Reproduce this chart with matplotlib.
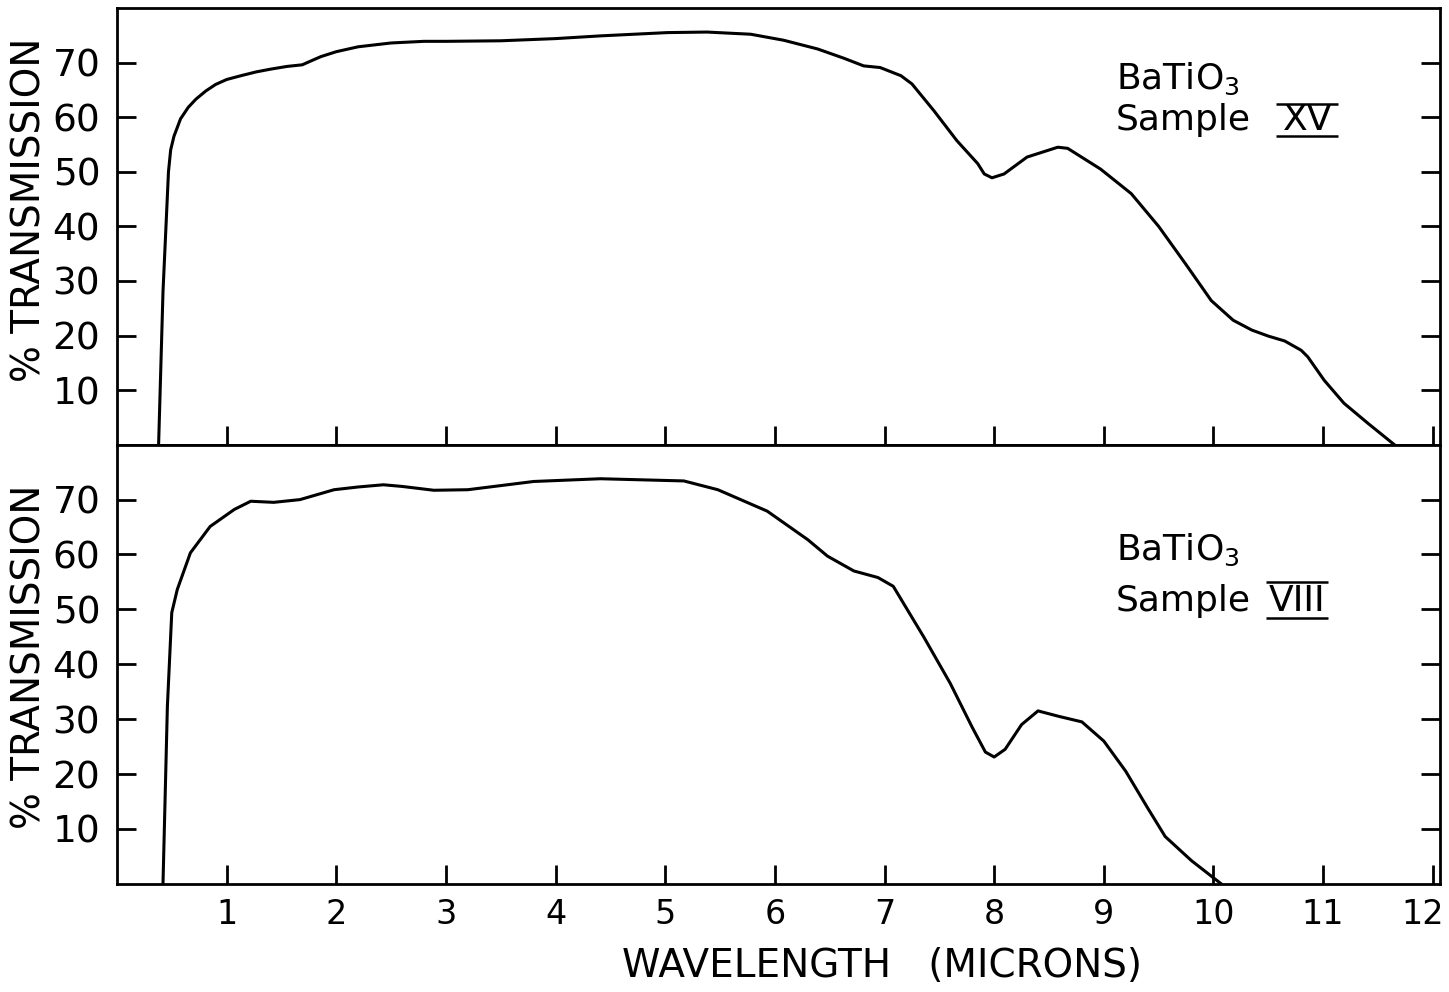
import matplotlib
matplotlib.use("Agg")
import matplotlib.pyplot as plt
import matplotlib.transforms as mtransforms

# sample XV (upper panel)
wl_xv = [0.38, 0.42, 0.47, 0.49, 0.52, 0.58, 0.65, 0.72, 0.81, 0.90, 1.00, 1.13, 1.27,
         1.40, 1.55, 1.69, 1.78, 1.86, 2.0, 2.2, 2.5, 2.8, 3.0, 3.5, 4.0, 4.41, 5.02,
         5.38, 5.78, 6.08, 6.39, 6.63, 6.81, 6.96, 7.15, 7.25, 7.45, 7.66, 7.85, 7.91,
         7.98, 8.09, 8.30, 8.58, 8.67, 8.97, 9.25, 9.5, 9.75, 9.98, 10.18, 10.35, 10.5,
         10.65, 10.8, 10.86, 11.01, 11.19, 11.41, 11.65]
tr_xv = [0, 28, 50, 54, 56.5, 59.7, 61.8, 63.3, 64.8, 66, 66.9, 67.6, 68.3,
         68.8, 69.3, 69.6, 70.4, 71.1, 72, 72.9, 73.6, 73.9, 73.9, 74.0, 74.4, 74.9, 75.5,
         75.6, 75.2, 74.1, 72.5, 70.8, 69.4, 69.1, 67.6, 66.1, 61.2, 55.7, 51.5, 49.6,
         48.9, 49.6, 52.7, 54.5, 54.3, 50.5, 46, 40, 33, 26.4, 22.8, 21.0, 19.9,
         19.0, 17.3, 16.1, 11.8, 7.6, 3.9, 0]

# sample VIII (lower panel)
wl_viii = [0.42, 0.46, 0.50, 0.55, 0.67, 0.85, 1.07, 1.22, 1.43, 1.67, 1.98, 2.2, 2.43,
           2.60, 2.89, 3.2, 3.8, 4.41, 5.17, 5.48, 5.93, 6.30, 6.48, 6.72, 6.94, 7.08,
           7.36, 7.6, 7.8, 7.92, 8.0, 8.1, 8.25, 8.4, 8.59, 8.8, 9.0, 9.2, 9.4, 9.56,
           9.8, 10.07]
tr_viii = [0, 32.3, 49.4, 53.6, 60.3, 65.1, 68.2, 69.7, 69.5, 70.0, 71.8, 72.3, 72.7,
           72.4, 71.7, 71.8, 73.3, 73.8, 73.4, 71.8, 67.9, 62.7, 59.7, 57, 55.8, 54.2,
           44.9, 36.5, 28.5, 24, 23.1, 24.5, 29, 31.5, 30.5, 29.5, 26, 20.5, 13.8, 8.6,
           4.2, 0]

xticks = list(range(1, 13))
yticks = [10, 20, 30, 40, 50, 60, 70]

fig = plt.figure(figsize=(14.49, 9.92), dpi=100)
ax1 = fig.add_axes([0.0807, 0.5517, 0.9134, 0.4402])
ax2 = fig.add_axes([0.0807, 0.1091, 0.9134, 0.4426])


def panel(ax, wl, tr, sample, ylab_y, y_ba, y_sam, lines_y, lines_x):
    ax.plot(wl, tr, color="black", lw=2.2, solid_joinstyle="round")
    ax.set_xlim(0, 12.07)
    ax.set_ylim(0, 80)
    ax.set_xticks(xticks)
    ax.set_yticks(yticks)
    ax.tick_params(axis="y", direction="in", length=14, width=2, labelsize=27, pad=12,
                   right=True)
    ax.tick_params(axis="x", direction="in", length=14, width=2, labelsize=24, pad=10)
    for s in ax.spines.values():
        s.set_linewidth(2)
    ax.text(-0.066, ylab_y, "% TRANSMISSION", transform=ax.transAxes, rotation=90,
            ha="center", va="center", fontsize=28)
    ax.text(9.11, y_ba, r"BaTiO$_3$", fontsize=26, va="center")
    ax.text(9.11, y_sam, "Sample", fontsize=26, va="center")
    ax.text(sum(lines_x) / 2, y_sam, sample, fontsize=26, va="center", ha="center")
    ax.hlines(lines_y, lines_x[0], lines_x[1], color="black", lw=1.8)


panel(ax1, wl_xv, tr_xv, "XV", 0.537, 67.1, 59.4, [62.5, 56.6], [10.57, 11.14])
panel(ax2, wl_viii, tr_viii, "VIII", 0.517, 60.9, 51.6, [54.9, 48.5], [10.48, 11.04])
ax1.set_xticklabels([])

# keep the "12" inside the figure edge
last = ax2.get_xticklabels()[-1]
last.set_transform(last.get_transform() +
                   mtransforms.ScaledTranslation(-10 / 100, 0, fig.dpi_scale_trans))

fig.text(0.609, 0.026, "WAVELENGTH   (MICRONS)", ha="center", va="center", fontsize=28)

fig.savefig("out.png", dpi=100)
